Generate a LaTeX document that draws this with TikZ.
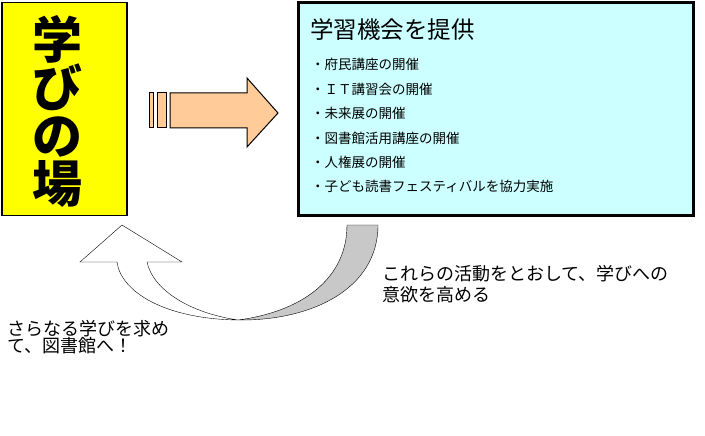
\documentclass[tikz,border=0pt]{standalone}
\usepackage{fontspec}
\setmainfont{Noto Sans CJK JP}
\usetikzlibrary{positioning}
\usetikzlibrary{calc}

\definecolor{placeyellow}{HTML}{FFFF00}
\definecolor{offercyan}{HTML}{CCFFFF}
\definecolor{arrowpeach}{HTML}{FFCC99}
\definecolor{backgray}{HTML}{C8C8C8}

\tikzset{
  itemtext/.style={anchor=west,inner sep=0pt,font=\fontsize{13.5}{13.5}\selectfont},
  sidetext/.style={anchor=north west,inner sep=0pt,align=left},
}

\begin{document}
\begin{tikzpicture}[x=1pt,y=-1pt]
  \useasboundingbox (0,0) rectangle (705,436);

  % left box
  \node[draw,line width=1.5pt,fill=placeyellow,
      minimum width=125pt,minimum height=213pt,inner sep=0pt] (place) at (64.5,109) {};
  \node[align=center,inner sep=0pt,
      font=\fontsize{50}{48}\selectfont\bfseries] (placetext) at (57,111) {学\\び\\の\\場};

  % right box
  \node[draw,line width=2.5pt,fill=offercyan,
      minimum width=395pt,minimum height=213pt,inner sep=0pt] (offer) at (496,109) {};
  \node[anchor=west,inner sep=0pt,font=\fontsize{23.5}{23.5}\selectfont] (title) at (310,30) {学習機会を提供};
  \foreach \txt [count=\i] in {府民講座の開催,ＩＴ講習会の開催,未来展の開催,
      図書館活用講座の開催,人権展の開催,子ども読書フェスティバルを協力実施}
    \node[itemtext] (item\i) at (311,40.3+24.4*\i) {・\txt};

  % big arrow
  \draw[line width=1pt,fill=arrowpeach] (149,93) rectangle (153,128);
  \draw[line width=1pt,fill=arrowpeach] (157,93) rectangle (166,128);
  \draw[line width=1pt,fill=arrowpeach,line join=miter]
    (170,93) -- (247,93) -- (247,78) -- (278,113) -- (247,147) -- (247,128)
    -- (170,128) -- cycle;

  % curved arrow
  \coordinate (bottom) at (238,320);
  \draw[fill=backgray] (378,225) .. controls (378,290) and (310,321) .. (bottom)
    .. controls (300,312) and (347,280) .. (347,225) -- cycle;
  \draw[fill=white,line join=miter] (bottom) .. controls (165,319) and (121,292) .. (117,262)
    -- (80,262) -- (122,225) -- (182,262) -- (147,262)
    .. controls (153,290) and (190,313) .. (bottom);

  \node[sidetext,font=\fontsize{18}{21}\selectfont] (effect) at (382,265) {これらの活動をとおして、学びへの\\意欲を高める};
  \node[sidetext,font=\fontsize{18}{17}\selectfont] (library) at (7,320) {さらなる学びを求め\\て、図書館へ！};
\end{tikzpicture}
\end{document}
